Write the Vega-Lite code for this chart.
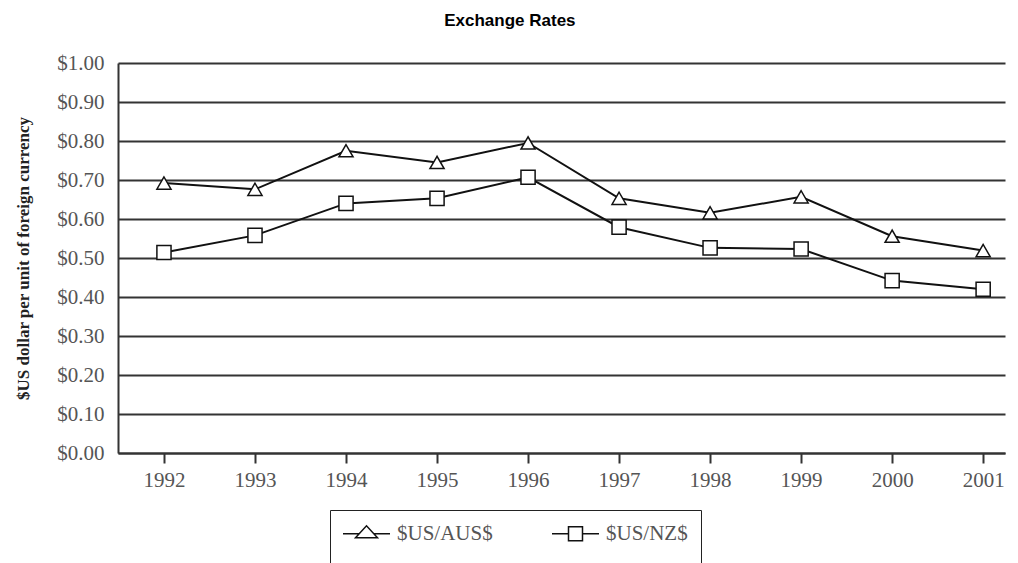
{
  "$schema": "https://vega.github.io/schema/vega-lite/v6.json",
  "width": 887,
  "height": 390,
  "autosize": "none",
  "padding": {"left": 118, "top": 63, "right": 13, "bottom": 110},
  "background": "white",
  "title": {
    "text": "Exchange Rates",
    "font": "Liberation Sans",
    "fontSize": 17,
    "fontWeight": "bold",
    "color": "#000000",
    "frame": "bounds",
    "anchor": "middle",
    "offset": 22
  },
  "config": {
    "view": {"stroke": null},
    "font": "Liberation Serif"
  },
  "data": {
    "values": [
      {"year": 1992, "series": "$US/AUS$", "rate": 0.692},
      {"year": 1993, "series": "$US/AUS$", "rate": 0.676},
      {"year": 1994, "series": "$US/AUS$", "rate": 0.775},
      {"year": 1995, "series": "$US/AUS$", "rate": 0.745},
      {"year": 1996, "series": "$US/AUS$", "rate": 0.795},
      {"year": 1997, "series": "$US/AUS$", "rate": 0.653},
      {"year": 1998, "series": "$US/AUS$", "rate": 0.616},
      {"year": 1999, "series": "$US/AUS$", "rate": 0.657},
      {"year": 2000, "series": "$US/AUS$", "rate": 0.556},
      {"year": 2001, "series": "$US/AUS$", "rate": 0.519},
      {"year": 1992, "series": "$US/NZ$", "rate": 0.514},
      {"year": 1993, "series": "$US/NZ$", "rate": 0.558},
      {"year": 1994, "series": "$US/NZ$", "rate": 0.640},
      {"year": 1995, "series": "$US/NZ$", "rate": 0.653},
      {"year": 1996, "series": "$US/NZ$", "rate": 0.707},
      {"year": 1997, "series": "$US/NZ$", "rate": 0.579},
      {"year": 1998, "series": "$US/NZ$", "rate": 0.526},
      {"year": 1999, "series": "$US/NZ$", "rate": 0.523},
      {"year": 2000, "series": "$US/NZ$", "rate": 0.442},
      {"year": 2001, "series": "$US/NZ$", "rate": 0.420}
    ]
  },
  "encoding": {
    "x": {
      "field": "year",
      "type": "quantitative",
      "scale": {"domain": [1991.495, 2001.24], "nice": false, "zero": false},
      "axis": {
        "title": null,
        "values": [1992, 1993, 1994, 1995, 1996, 1997, 1998, 1999, 2000, 2001],
        "format": "d",
        "grid": false,
        "domainColor": "#333333",
        "domainWidth": 2,
        "tickColor": "#333333",
        "tickWidth": 2,
        "tickSize": 10,
        "labelFont": "Liberation Serif",
        "labelFontSize": 21,
        "labelColor": "#555555",
        "labelPadding": 6
      }
    },
    "y": {
      "field": "rate",
      "type": "quantitative",
      "scale": {"domain": [0, 1], "nice": false},
      "axis": {
        "title": "$US dollar per unit of foreign currency",
        "titleFont": "Liberation Serif",
        "titleFontSize": 17,
        "titleFontWeight": "bold",
        "titleColor": "#222222",
        "titlePadding": 24,
        "values": [0, 0.1, 0.2, 0.3, 0.4, 0.5, 0.6, 0.7, 0.8, 0.9, 1.0],
        "format": "$.2f",
        "grid": true,
        "gridColor": "#333333",
        "gridWidth": 2,
        "gridOpacity": 1,
        "domainColor": "#333333",
        "domainWidth": 2,
        "ticks": false,
        "labelFont": "Liberation Serif",
        "labelFontSize": 21,
        "labelColor": "#555555",
        "labelPadding": 14
      }
    }
  },
  "layer": [
    {
      "mark": {"type": "line", "color": "#111111", "strokeWidth": 2},
      "encoding": {"detail": {"field": "series"}}
    },
    {
      "mark": {"type": "point", "filled": true, "color": "white", "stroke": "#111111", "strokeWidth": 1.5, "opacity": 1, "size": 200},
      "encoding": {
        "shape": {
          "condition": {"test": "datum.series === '$US/AUS$'", "value": "triangle-up"},
          "value": "square"
        }
      }
    },
    {
      "mark": {"type": "point", "filled": true, "color": "white", "stroke": "#111111", "strokeWidth": 1.5, "opacity": 1, "size": 0},
      "encoding": {
        "shape": {
          "field": "series",
          "type": "nominal",
          "scale": {
            "domain": ["$US/AUS$", "$US/NZ$"],
            "range": [
              "M-4.7,0H-1.45M1.45,0H4.7M-2.2,0.8L0,-1.6L2.2,0.8Z",
              "M-4.7,0H-1.4M1.4,0H4.7M-1.4,-1.4H1.4V1.4H-1.4Z"
            ]
          },
          "legend": {
            "title": " ",
            "titleOrient": "bottom",
            "titleFontSize": 24,
            "orient": "none",
            "legendX": 212,
            "legendY": 447,
            "direction": "horizontal",
            "strokeColor": "#222222",
            "padding": 13,
            "symbolOffset": 13,
            "labelOffset": 20,
            "labelFont": "Liberation Serif",
            "labelFontSize": 21,
            "labelColor": "#555555",
            "labelLimit": 200,
            "columnPadding": 56
          }
        }
      }
    }
  ]
}
